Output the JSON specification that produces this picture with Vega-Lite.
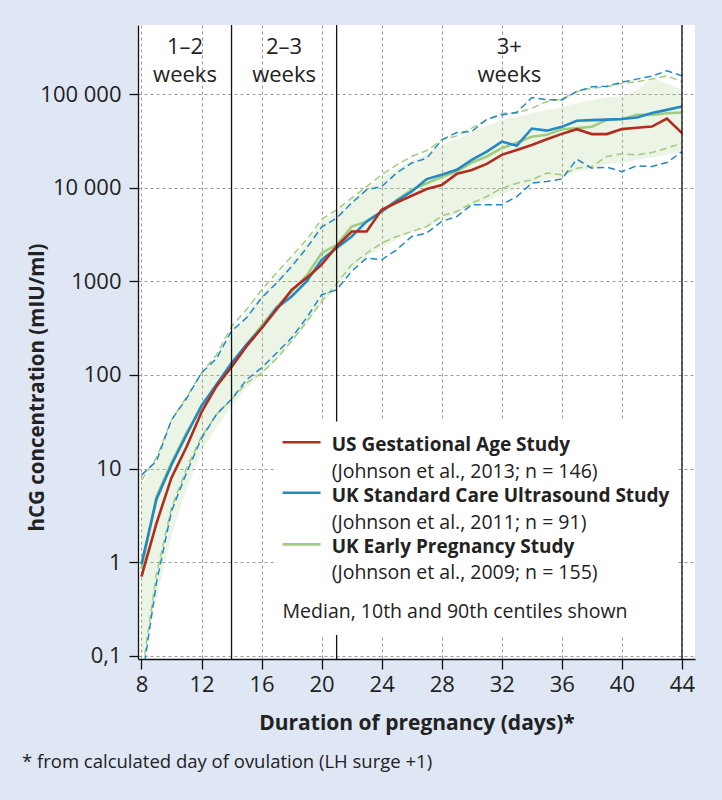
{
  "$schema": "https://vega.github.io/schema/vega-lite/v6.json",
  "width": 557,
  "height": 634,
  "autosize": {"type": "none"},
  "padding": {"left": 138, "top": 25, "right": 27, "bottom": 141},
  "background": "#dfe7f4",
  "config": {
    "view": {"fill": "white", "stroke": null},
    "font": "Open Sans",
    "axis": {
      "domainColor": "#111",
      "domainWidth": 1.3,
      "tickColor": "#111",
      "tickWidth": 1.3,
      "labelColor": "#222",
      "titleColor": "#222",
      "labelFont": "Open Sans",
      "titleFont": "Open Sans",
      "gridColor": "#9a9a9a",
      "gridDash": [3, 3],
      "gridWidth": 1.1
    }
  },
  "title": {
    "text": "* from calculated day of ovulation (LH surge +1)",
    "orient": "bottom",
    "anchor": "start",
    "frame": "group",
    "dx": -116,
    "offset": 20,
    "fontSize": 18.5,
    "fontWeight": "normal",
    "font": "Open Sans",
    "color": "#222"
  },
  "datasets": {
    "curves": [
      {"day": 8, "us": 0.7, "sc": 0.95, "sc10": 0.05, "sc90": 8.5, "ep": 0.85, "ep10": 0.06, "ep90": 7.5, "lo": 0.09, "hi": 6.5},
      {"day": 9, "us": 2.6, "sc": 4.7, "sc10": 0.6, "sc90": 12, "ep": 5.0, "ep10": 0.75, "ep90": 13, "lo": 0.4, "hi": 12},
      {"day": 10, "us": 8.0, "sc": 11, "sc10": 3.5, "sc90": 33, "ep": 11.5, "ep10": 3.8, "ep90": 33, "lo": 1.9, "hi": 30},
      {"day": 11, "us": 17, "sc": 23, "sc10": 9, "sc90": 56, "ep": 24, "ep10": 10, "ep90": 58, "lo": 6, "hi": 55},
      {"day": 12, "us": 40, "sc": 47, "sc10": 21, "sc90": 105, "ep": 45, "ep10": 22, "ep90": 105, "lo": 15, "hi": 95},
      {"day": 13, "us": 76, "sc": 79, "sc10": 38, "sc90": 150, "ep": 78, "ep10": 38, "ep90": 165, "lo": 28, "hi": 160},
      {"day": 14, "us": 122, "sc": 134, "sc10": 55, "sc90": 296, "ep": 130, "ep10": 55, "ep90": 330, "lo": 46, "hi": 280},
      {"day": 15, "us": 203, "sc": 211, "sc10": 89, "sc90": 408, "ep": 212, "ep10": 82, "ep90": 500, "lo": 72, "hi": 450},
      {"day": 16, "us": 316, "sc": 316, "sc10": 119, "sc90": 665, "ep": 335, "ep10": 105, "ep90": 810, "lo": 100, "hi": 720},
      {"day": 17, "us": 500, "sc": 520, "sc10": 172, "sc90": 960, "ep": 530, "ep10": 150, "ep90": 1230, "lo": 145, "hi": 1100},
      {"day": 18, "us": 812, "sc": 690, "sc10": 249, "sc90": 1440, "ep": 780, "ep10": 230, "ep90": 1850, "lo": 220, "hi": 1700},
      {"day": 19, "us": 1090, "sc": 1000, "sc10": 408, "sc90": 2270, "ep": 1150, "ep10": 370, "ep90": 2790, "lo": 350, "hi": 2600},
      {"day": 20, "us": 1510, "sc": 1700, "sc10": 720, "sc90": 3800, "ep": 2000, "ep10": 612, "ep90": 4600, "lo": 580, "hi": 4300},
      {"day": 21, "us": 2370, "sc": 2270, "sc10": 813, "sc90": 4740, "ep": 2450, "ep10": 944, "ep90": 5820, "lo": 850, "hi": 5500},
      {"day": 22, "us": 3410, "sc": 3020, "sc10": 1280, "sc90": 6870, "ep": 3860, "ep10": 1510, "ep90": 7760, "lo": 1350, "hi": 7400},
      {"day": 23, "us": 3410, "sc": 4370, "sc10": 1780, "sc90": 9530, "ep": 4370, "ep10": 2000, "ep90": 10300, "lo": 1850, "hi": 9800},
      {"day": 24, "us": 5820, "sc": 5580, "sc10": 1700, "sc90": 10300, "ep": 5580, "ep10": 2570, "ep90": 13800, "lo": 2300, "hi": 12800},
      {"day": 25, "us": 6970, "sc": 7250, "sc10": 2180, "sc90": 14400, "ep": 7400, "ep10": 3020, "ep90": 17600, "lo": 2800, "hi": 16000},
      {"day": 26, "us": 8220, "sc": 9130, "sc10": 3020, "sc90": 18400, "ep": 9500, "ep10": 3420, "ep90": 21600, "lo": 3300, "hi": 19500},
      {"day": 27, "us": 9690, "sc": 12400, "sc10": 3290, "sc90": 20700, "ep": 11200, "ep10": 3860, "ep90": 25000, "lo": 3700, "hi": 23000},
      {"day": 28, "us": 10700, "sc": 13800, "sc10": 4370, "sc90": 32500, "ep": 13000, "ep10": 5010, "ep90": 32500, "lo": 4600, "hi": 29000},
      {"day": 29, "us": 14100, "sc": 15600, "sc10": 4940, "sc90": 38900, "ep": 14900, "ep10": 5580, "ep90": 35900, "lo": 5300, "hi": 33000},
      {"day": 30, "us": 15500, "sc": 19900, "sc10": 6600, "sc90": 39900, "ep": 18600, "ep10": 6870, "ep90": 43400, "lo": 6500, "hi": 39000},
      {"day": 31, "us": 18000, "sc": 24400, "sc10": 6600, "sc90": 54000, "ep": 21600, "ep10": 8070, "ep90": 53200, "lo": 7300, "hi": 46000},
      {"day": 32, "us": 22500, "sc": 31200, "sc10": 6600, "sc90": 60100, "ep": 26500, "ep10": 9910, "ep90": 62700, "lo": 8500, "hi": 53000},
      {"day": 33, "us": 25400, "sc": 28200, "sc10": 8070, "sc90": 64000, "ep": 30300, "ep10": 11200, "ep90": 62700, "lo": 9800, "hi": 57000},
      {"day": 34, "us": 28700, "sc": 43000, "sc10": 11200, "sc90": 92000, "ep": 35200, "ep10": 12200, "ep90": 70800, "lo": 11000, "hi": 63000},
      {"day": 35, "us": 33000, "sc": 40800, "sc10": 11700, "sc90": 87500, "ep": 36800, "ep10": 14400, "ep90": 83400, "lo": 12300, "hi": 68000},
      {"day": 36, "us": 37700, "sc": 44800, "sc10": 12400, "sc90": 87000, "ep": 42300, "ep10": 13800, "ep90": 88400, "lo": 12800, "hi": 72000},
      {"day": 37, "us": 42300, "sc": 52000, "sc10": 20200, "sc90": 107000, "ep": 43400, "ep10": 16200, "ep90": 107000, "lo": 15000, "hi": 80000},
      {"day": 38, "us": 37500, "sc": 52800, "sc10": 16200, "sc90": 120000, "ep": 44900, "ep10": 16900, "ep90": 116000, "lo": 15800, "hi": 87000},
      {"day": 39, "us": 37500, "sc": 53500, "sc10": 16600, "sc90": 122000, "ep": 53200, "ep10": 21600, "ep90": 120000, "lo": 18000, "hi": 92000},
      {"day": 40, "us": 42400, "sc": 54300, "sc10": 14900, "sc90": 134000, "ep": 54000, "ep10": 23100, "ep90": 131000, "lo": 18500, "hi": 95000},
      {"day": 41, "us": 43800, "sc": 56500, "sc10": 17200, "sc90": 145000, "ep": 60100, "ep10": 22500, "ep90": 136000, "lo": 20000, "hi": 110000},
      {"day": 42, "us": 45100, "sc": 63000, "sc10": 16900, "sc90": 156000, "ep": 60100, "ep10": 23800, "ep90": 145000, "lo": 21000, "hi": 150000},
      {"day": 43, "us": 55000, "sc": 68000, "sc10": 18600, "sc90": 178000, "ep": 62700, "ep10": 26500, "ep90": 157000, "lo": 22500, "hi": 130000},
      {"day": 44, "us": 38400, "sc": 73800, "sc10": 24400, "sc90": 157000, "ep": 63700, "ep10": 30000, "ep90": 136000, "lo": 24000, "hi": 112000}
    ],
    "dividers": [{"day": 14}, {"day": 21}, {"day": 44}],
    "periods": [
      {"day": 10.9, "value": 269000, "label": "1–2"},
      {"day": 10.9, "value": 136000, "label": "weeks"},
      {"day": 17.5, "value": 269000, "label": "2–3"},
      {"day": 17.5, "value": 136000, "label": "weeks"},
      {"day": 32.5, "value": 269000, "label": "3+"},
      {"day": 32.5, "value": 136000, "label": "weeks"}
    ],
    "legendBox": [{"day": 17.0, "day2": 43.6, "value": 31.8, "value2": 0.167}],
    "legendKey": [
      {"day": 17.4, "day2": 19.93, "value": 19.1, "series": "us"},
      {"day": 17.4, "day2": 19.93, "value": 5.52, "series": "sc"},
      {"day": 17.4, "day2": 19.93, "value": 1.55, "series": "ep"}
    ],
    "legendNames": [
      {"day": 20.67, "value": 15.35, "label": "US Gestational Age Study"},
      {"day": 20.67, "value": 4.42, "label": "UK Standard Care Ultrasound Study"},
      {"day": 20.67, "value": 1.26, "label": "UK Early Pregnancy Study"}
    ],
    "legendNotes": [
      {"day": 20.67, "value": 7.98, "label": "(Johnson et al., 2013; n = 146)"},
      {"day": 20.67, "value": 2.28, "label": "(Johnson et al., 2011; n = 91)"},
      {"day": 20.67, "value": 0.656, "label": "(Johnson et al., 2009; n = 155)"},
      {"day": 17.4, "value": 0.256, "label": "Median, 10th and 90th centiles shown"}
    ]
  },
  "layer": [
    {
      "data": {"name": "curves"},
      "mark": {"type": "area", "fill": "#a9cf8a", "fillOpacity": 0.22, "clip": true},
      "encoding": {
        "x": {
          "field": "day", "type": "quantitative",
          "scale": {"domain": [7.77, 44.87], "nice": false, "zero": false},
          "axis": {
            "title": "Duration of pregnancy (days)*",
            "values": [8, 12, 16, 20, 24, 28, 32, 36, 40, 44],
            "format": "d",
            "tickSize": 10,
            "labelFontSize": 22,
            "labelPadding": 5,
            "titleFontSize": 21,
            "titleFontWeight": "bold",
            "titlePadding": 17,
            "grid": true
          }
        },
        "y": {
          "field": "lo", "type": "quantitative",
          "scale": {"type": "log", "domain": [0.0923, 549000], "nice": false},
          "axis": {
            "title": "hCG concentration (mIU/ml)",
            "values": [0.1, 1, 10, 100, 1000, 10000, 100000],
            "labelExpr": "datum.value < 0.5 ? '0,1' : datum.value > 50000 ? '100 000' : datum.value > 5000 ? '10 000' : format(datum.value, 'd')",
            "tickSize": 9,
            "labelPadding": 8,
            "labelFontSize": 22,
            "titleFontSize": 20.5,
            "titleFontWeight": "bold",
            "titleX": -91,
            "titleY": 362,
            "grid": true
          }
        },
        "y2": {"field": "hi"}
      }
    },
    {
      "data": {"name": "curves"},
      "transform": [{"fold": ["ep10", "ep90", "sc10", "sc90"], "as": ["series", "value"]}],
      "mark": {"type": "line", "strokeDash": [7, 4], "strokeWidth": 1.5, "clip": true},
      "encoding": {
        "x": {"field": "day", "type": "quantitative"},
        "y": {"field": "value", "type": "quantitative"},
        "detail": {"field": "series"},
        "color": {
          "field": "series", "type": "nominal", "legend": null,
          "scale": {
            "domain": ["us", "sc", "ep", "sc10", "sc90", "ep10", "ep90"],
            "range": ["#b12c1c", "#2489c3", "#9fcc80", "#2489c3", "#2489c3", "#9fcc80", "#9fcc80"]
          }
        }
      }
    },
    {
      "data": {"name": "curves"},
      "transform": [{"fold": ["ep", "sc", "us"], "as": ["series", "value"]}],
      "mark": {"type": "line", "strokeWidth": 2.6, "clip": true},
      "encoding": {
        "x": {"field": "day", "type": "quantitative"},
        "y": {"field": "value", "type": "quantitative"},
        "detail": {"field": "series"},
        "color": {"field": "series", "type": "nominal", "legend": null}
      }
    },
    {
      "data": {"name": "dividers"},
      "mark": {"type": "rule", "color": "#111", "strokeWidth": 1.3},
      "encoding": {"x": {"field": "day", "type": "quantitative"}}
    },
    {
      "data": {"name": "legendBox"},
      "mark": {"type": "rect", "fill": "white"},
      "encoding": {
        "x": {"field": "day", "type": "quantitative"},
        "x2": {"field": "day2"},
        "y": {"field": "value", "type": "quantitative"},
        "y2": {"field": "value2"}
      }
    },
    {
      "data": {"name": "legendKey"},
      "mark": {"type": "rule", "strokeWidth": 2.6},
      "encoding": {
        "x": {"field": "day", "type": "quantitative"},
        "x2": {"field": "day2"},
        "y": {"field": "value", "type": "quantitative"},
        "color": {"field": "series", "type": "nominal", "legend": null}
      }
    },
    {
      "data": {"name": "legendNames"},
      "mark": {"type": "text", "align": "left", "baseline": "alphabetic", "fontSize": 19, "fontWeight": "bold", "color": "#222", "font": "Open Sans"},
      "encoding": {
        "x": {"field": "day", "type": "quantitative"},
        "y": {"field": "value", "type": "quantitative"},
        "text": {"field": "label"}
      }
    },
    {
      "data": {"name": "legendNotes"},
      "mark": {"type": "text", "align": "left", "baseline": "alphabetic", "fontSize": 19.5, "color": "#222", "font": "Open Sans"},
      "encoding": {
        "x": {"field": "day", "type": "quantitative"},
        "y": {"field": "value", "type": "quantitative"},
        "text": {"field": "label"}
      }
    },
    {
      "data": {"name": "periods"},
      "mark": {"type": "text", "align": "center", "baseline": "alphabetic", "fontSize": 22, "color": "#222", "font": "Open Sans"},
      "encoding": {
        "x": {"field": "day", "type": "quantitative"},
        "y": {"field": "value", "type": "quantitative"},
        "text": {"field": "label"}
      }
    }
  ]
}
